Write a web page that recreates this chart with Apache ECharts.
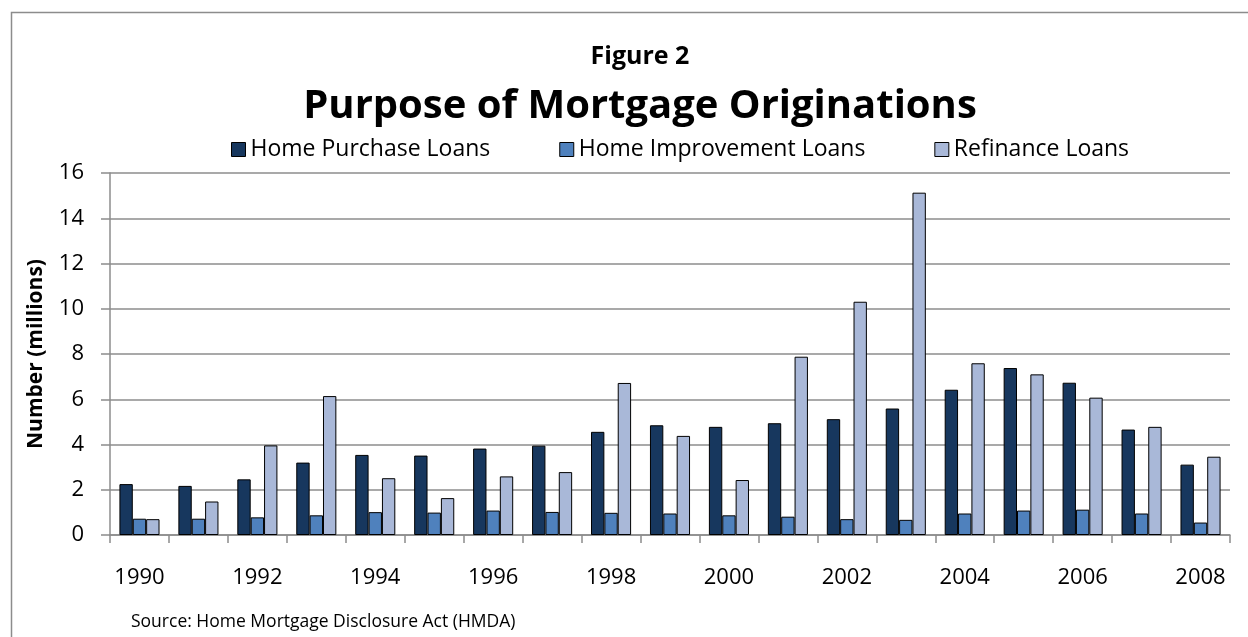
<!DOCTYPE html>
<html>
<head>
<meta charset="utf-8">
<title>Purpose of Mortgage Originations</title>
<script src="https://cdn.jsdelivr.net/npm/echarts@6/dist/echarts.min.js"></script>
<style>
    html, body { margin: 0; padding: 0; background: #fff; }
    #chart { width: 1248px; height: 637px; }
</style>
</head>
<body>
<div id="chart"></div>
<script>
// 数据：HMDA 抵押贷款发放量（百万笔）
const years = ['1990', '1991', '1992', '1993', '1994', '1995', '1996', '1997', '1998', '1999',
               '2000', '2001', '2002', '2003', '2004', '2005', '2006', '2007', '2008'];
const homePurchase = [2.25, 2.17, 2.46, 3.20, 3.54, 3.51, 3.82, 3.95, 4.56, 4.85,
                      4.78, 4.94, 5.12, 5.59, 6.42, 7.38, 6.73, 4.66, 3.11];
const homeImprovement = [0.72, 0.72, 0.78, 0.87, 1.01, 0.99, 1.08, 1.02, 0.98, 0.95,
                         0.87, 0.81, 0.70, 0.67, 0.95, 1.08, 1.12, 0.95, 0.55];
const refinance = [0.70, 1.48, 3.96, 6.14, 2.51, 1.63, 2.59, 2.78, 6.72, 4.38,
                   2.43, 7.88, 10.31, 15.13, 7.59, 7.10, 6.07, 4.78, 3.46];
const yTicks = { min: 0, max: 16, interval: 2 };

const FONT = '"Open Sans", "Noto Sans", sans-serif';

function barSeries(name, data, color) {
    return {
        name: name,
        type: 'bar',
        data: data,
        barGap: '0%',
        barCategoryGap: '32%',
        itemStyle: { color: color, borderColor: '#000', borderWidth: 1 }
    };
}

const chart = echarts.init(document.getElementById('chart'));

const option = {
    backgroundColor: '#fff',
    animation: false,
    textStyle: { fontFamily: FONT },
    title: [
        {
            text: 'Figure 2',
            left: 635,
            textAlign: 'center',
            top: 39,
            textStyle: { fontFamily: FONT, fontSize: 25, fontWeight: 'bold', color: '#000' }
        },
        {
            text: 'Purpose of Mortgage Originations',
            left: 635,
            textAlign: 'center',
            top: 82,
            textStyle: { fontFamily: FONT, fontSize: 40, fontWeight: 'bold', color: '#000' }
        },
        {
            text: 'Source: Home Mortgage Disclosure Act (HMDA)',
            left: 131,
            top: 613,
            padding: 0,
            textStyle: { fontFamily: FONT, fontSize: 17.5, fontWeight: 'normal', color: '#000' }
        }
    ],
    legend: {
        left: 226,
        top: 133,
        itemWidth: 14,
        itemHeight: 14,
        itemGap: 69,
        icon: 'rect',
        itemStyle: { borderColor: '#000', borderWidth: 1 },
        textStyle: { fontFamily: FONT, fontSize: 23, color: '#000' },
        data: ['Home Purchase Loans', 'Home Improvement Loans', 'Refinance Loans']
    },
    graphic: [
        {
            type: 'rect',
            silent: true,
            shape: { x: 11.5, y: 12.5, width: 1300, height: 700 },
            style: { fill: 'none', stroke: '#8c8c8c', lineWidth: 1.5 }
        }
    ],
    grid: { left: 110, right: 18, top: 173, bottom: 102 },
    xAxis: {
        type: 'category',
        data: years,
        axisLine: { lineStyle: { color: '#8c8c8c', width: 1.5 } },
        axisTick: { show: true, length: 8, interval: 0, lineStyle: { color: '#8c8c8c', width: 1.5 } },
        axisLabel: { interval: 1, margin: 32, fontFamily: FONT, fontSize: 22, color: '#000' }
    },
    yAxis: {
        type: 'value',
        min: yTicks.min,
        max: yTicks.max,
        interval: yTicks.interval,
        name: 'Number (millions)',
        nameLocation: 'middle',
        nameGap: 63,
        nameTextStyle: { fontFamily: FONT, fontSize: 21, fontWeight: 'bold', color: '#000' },
        axisLine: { show: true, lineStyle: { color: '#8c8c8c', width: 1.5 } },
        axisTick: { show: true, length: 9, lineStyle: { color: '#8c8c8c', width: 1.5 } },
        axisLabel: { margin: 26, fontFamily: FONT, fontSize: 22, color: '#000' },
        splitLine: { lineStyle: { color: '#8c8c8c', width: 1.5 } }
    },
    series: [
        barSeries('Home Purchase Loans', homePurchase, '#17375E'),
        barSeries('Home Improvement Loans', homeImprovement, '#4F81BD'),
        barSeries('Refinance Loans', refinance, '#A9B8D8')
    ]
};

chart.setOption(option);
</script>
</body>
</html>
